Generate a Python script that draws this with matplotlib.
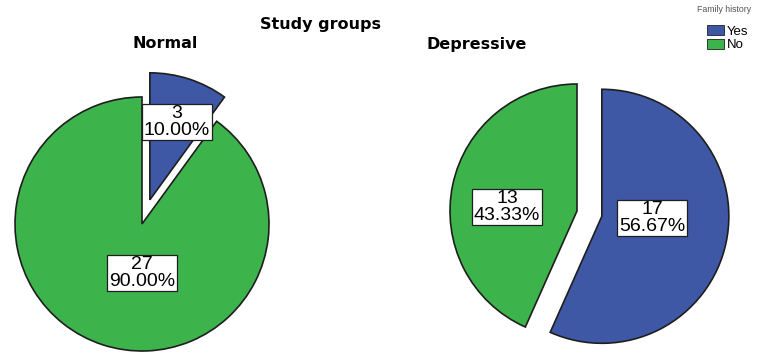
import matplotlib
matplotlib.use('Agg')
import matplotlib.pyplot as plt
import matplotlib.patches as mpatches

# Data
groups = ['Normal', 'Depressive']
categories = ['Yes', 'No']
yes_counts = [3, 17]
no_counts = [27, 13]

blue = '#3f58a6'
green = '#3cb44b'
edge = '#1e1e1e'

W, H = 759, 354
fig = plt.figure(figsize=(W / 100, H / 100), dpi=100)
ax = fig.add_axes([0, 0, 1, 1])

# pie centres / radius in pixel space (y measured from top of image)
centres = [(142, 224), (577, 211)]
radius = 127
# label box centres (pixels, from top)
label_pos = [[(177, 122), (142, 273)], [(652, 218), (507, 207)]]
title_pos = [(165, 44), (477, 45)]

for i, g in enumerate(groups):
    vals = [yes_counts[i], no_counts[i]]
    total = sum(vals)
    cx, cy = centres[i]
    # explode is in data units here, so scale it by the radius
    ax.pie(vals, colors=[blue, green], explode=[0.2 * radius, 0], startangle=90,
           counterclock=False, center=(cx, H - cy), radius=radius,
           wedgeprops=dict(edgecolor=edge, linewidth=1.2))
    for j, v in enumerate(vals):
        lx, ly = label_pos[i][j]
        ax.text(lx, H - ly, f'{v}\n{v / total * 100:.2f}%', ha='center', va='center',
                family='Liberation Sans', fontsize=14, linespacing=0.95,
                bbox=dict(boxstyle='square,pad=0.08', fc='white', ec=edge, lw=0.9))
    tx, ty = title_pos[i]
    ax.text(tx, H - ty, g, ha='center', va='center', fontsize=11.5,
            fontweight='bold', family='DejaVu Sans')

ax.text(320, H - 24, 'Study groups', ha='center', va='center', fontsize=11.5,
        fontweight='bold', family='DejaVu Sans')

# legend
ax.text(697, H - 10, 'Family history', ha='left', va='center', fontsize=6.3,
        color='#555555', family='Liberation Sans')
handles = [mpatches.Patch(facecolor=c, edgecolor=edge, linewidth=0.6) for c in [blue, green]]
ax.legend(handles, categories, loc='upper left', bbox_to_anchor=(698 / W, 1 - 16 / H),
          frameon=False, handlelength=1.3, handleheight=0.8,
          handletextpad=0.2, labelspacing=0.05, borderpad=0.2,
          prop={'family': 'Liberation Sans', 'size': 9.5})

ax.set_xlim(0, W)
ax.set_ylim(0, H)
ax.set_aspect('auto')
ax.axis('off')

fig.savefig('out.png', dpi=100, facecolor='white')
